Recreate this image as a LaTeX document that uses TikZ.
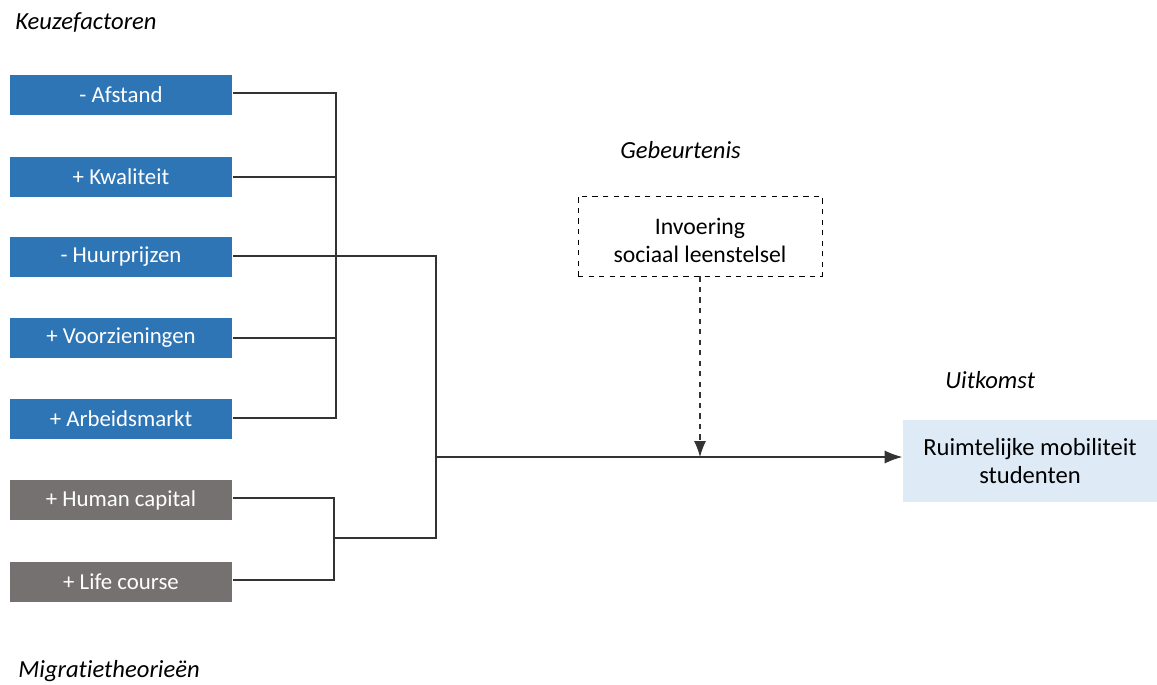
\documentclass[tikz,border=0pt]{standalone}
\usepackage{fontspec}
\setmainfont{Carlito}[Ligatures={NoCommon}]
\usepackage{xcolor}
\usetikzlibrary{arrows.meta, positioning}

\definecolor{factorblue}{HTML}{2E75B6}
\definecolor{theorygray}{HTML}{767171}
\definecolor{outcomeblue}{HTML}{DEEBF7}

\begin{document}
\begin{tikzpicture}[x=0.02cm, y=-0.02cm,
    factor/.style={rectangle, fill=factorblue, text=white, minimum width=4.46cm, minimum height=0.8cm, font=\fontsize{13}{15}\selectfont},
    theory/.style={factor, fill=theorygray},
    heading/.style={anchor=base west, inner sep=0pt, font=\fontsize{14}{16}\selectfont\itshape},
    link/.style={line width=0.6pt, draw=black!80}]
    \useasboundingbox (0,0) rectangle (1157,684);

    \node[heading] (keuze) at (15,29) {Keuzefactoren};
    \node[heading] (gebeurt) at (620,158) {Gebeurtenis};
    \node[heading] (uitk) at (945,388) {Uitkomst};
    \node[heading] (migr) at (18,677) {Migratietheorieën};

    \node[factor] (afstand) at (121,95) {- Afstand};
    \node[factor] (kwal) at (121,177) {+ Kwaliteit};
    \node[factor] (huur) at (121,257) {- Huurprijzen};
    \node[factor] (voorz) at (121,338) {+ Voorzieningen};
    \node[factor] (arbeid) at (121,419) {+ Arbeidsmarkt};
    \node[theory] (human) at (121,500) {+ Human capital};
    \node[theory] (life) at (121,582) {+ Life course};

    \node[draw, dashed, rectangle, minimum width=4.88cm, minimum height=1.6cm, align=center,
          font=\fontsize{13.5}{16}\selectfont] (invoering) at (700,236) {\rule{0pt}{14pt}Invoering\\sociaal leenstelsel};
    \node[rectangle, fill=outcomeblue, minimum width=5.1cm, minimum height=1.64cm, align=center,
          font=\fontsize{14}{15.5}\selectfont] (mobiliteit) at (1030,461) {Ruimtelijke mobiliteit\\studenten};

    \coordinate (blue) at (336,0);
    \coordinate (gray) at (334,0);
    \coordinate (join) at (436,0);

    \draw[link] (afstand.east |- 0,93) -| (blue |- 0,418) -- (arbeid.east |- 0,418);
    \draw[link] (kwal.east |- 0,177) -- (blue |- 0,177);
    \draw[link] (voorz.east |- 0,338) -- (blue |- 0,338);
    \draw[link] (huur.east |- 0,256) -| (join |- 0,538) -- (gray |- 0,538);
    \draw[link] (human.east |- 0,498) -| (gray |- 0,580) -- (life.east |- 0,580);
    \draw[link, -{Latex[length=3.5mm, width=2.6mm]}] (join |- 0,457) -- (mobiliteit.west |- 0,457);
    \draw[link, dashed, -{Latex[length=3.2mm, width=2.4mm]}] (invoering.south) -- (invoering.south |- 0,457);
\end{tikzpicture}
\end{document}
